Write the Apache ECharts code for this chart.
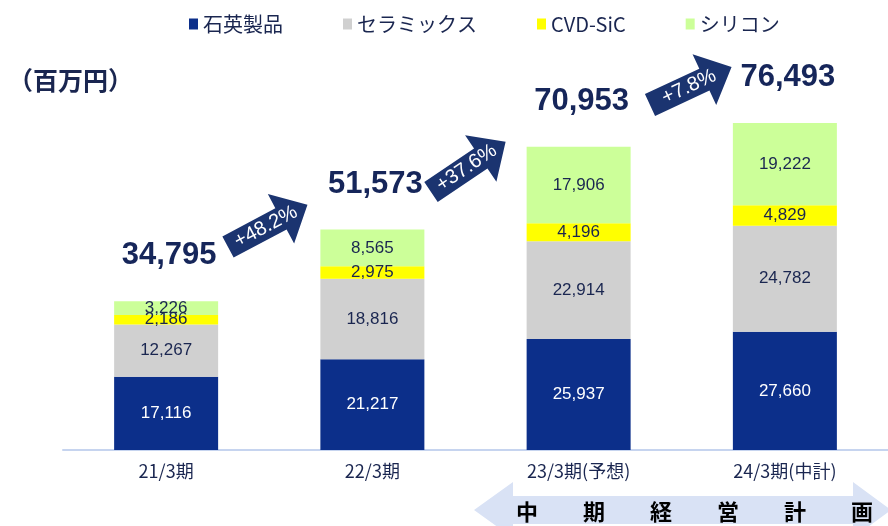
<!DOCTYPE html>
<html>
<head>
<meta charset="utf-8">
<script src="https://cdn.jsdelivr.net/npm/echarts@6/dist/echarts.min.js"></script>
<style>
  html, body { margin: 0; padding: 0; background: #fff; }
  #chart { width: 888px; height: 526px; }
</style>
</head>
<body>
<div id="chart"></div>
<script>
const categories = ['21/3期', '22/3期', '23/3期(予想)', '24/3期(中計)'];
const quartz = [17116, 21217, 25937, 27660];
const ceramics = [12267, 18816, 22914, 24782];
const cvdSic = [2186, 2975, 4196, 4829];
const silicon = [3226, 8565, 17906, 19222];
const totals = [34795, 51573, 70953, 76493];
const growth = ['+48.2%', '+37.6%', '+7.8%'];
// arrow annotations: start point (left middle) and angle in degrees
const arrowPos = [[228, 247, 28], [431, 192, 34], [650, 105, 25]];
const planChars = ['中', '期', '経', '営', '計', '画'];

const navy = '#1a2650';
const numFont = '"Liberation Sans", Arial, sans-serif';
const jpFont = '"Noto Sans CJK JP", sans-serif';

const chart = echarts.init(document.getElementById('chart'));

function segLabel(color) {
  return {
    show: true,
    position: 'inside',
    color: color,
    fontSize: 17,
    fontFamily: numFont,
    formatter: p => p.value.toLocaleString('en-US')
  };
}

function arrowGraphic(x0, y0, deg, text) {
  const a = deg * Math.PI / 180;
  const c = Math.cos(a), s = Math.sin(a);
  const local = [[0, -12], [60, -12], [60, -28], [90, 0], [60, 28], [60, 12], [0, 12]];
  const pts = local.map(([lx, ly]) => [x0 + lx * c + ly * s, y0 - lx * s + ly * c]);
  return [
    { type: 'polygon', shape: { points: pts }, style: { fill: '#1b3470' }, z: 10 },
    {
      type: 'text', x: x0 + 43 * c, y: y0 - 43 * s, rotation: a, z: 11,
      style: {
        text: text, fill: '#fff', font: '20px ' + numFont,
        textAlign: 'center', textVerticalAlign: 'middle'
      }
    }
  ];
}

let graphics = [
  {
    type: 'text', left: 8, top: 68,
    style: { text: '（百万円）', fill: navy, font: 'bold 25px ' + jpFont }
  },
  {
    type: 'polygon', z: 1,
    shape: {
      points: [[474, 510], [513, 482], [513, 496], [853, 496], [853, 482], [891, 510],
               [853, 538], [853, 524], [513, 524], [513, 538]]
    },
    style: { fill: '#d9e2f5' }
  }
];
planChars.forEach((ch, i) => {
  graphics.push({
    type: 'text', x: 527 + i * 67, y: 512, z: 2,
    style: {
      text: ch, fill: '#000', font: 'bold 22px ' + jpFont,
      textAlign: 'center', textVerticalAlign: 'middle'
    }
  });
});
arrowPos.forEach((p, i) => {
  graphics = graphics.concat(arrowGraphic(p[0], p[1], p[2], growth[i]));
});

const option = {
  animation: false,
  legend: {
    data: ['石英製品', 'セラミックス', 'CVD-SiC', 'シリコン'],
    left: 184,
    top: 9,
    icon: 'rect',
    itemWidth: 9,
    itemHeight: 11,
    itemGap: 60,
    itemTextGap: 4,
    textStyle: { color: navy, fontSize: 20, fontFamily: jpFont }
  },
  grid: { left: 63, right: -5, top: 108, bottom: 76 },
  xAxis: {
    type: 'category',
    data: categories,
    axisLine: { lineStyle: { color: '#c6d4ef', width: 2 } },
    axisTick: { show: false },
    axisLabel: { color: navy, fontSize: 18, fontFamily: jpFont, margin: 12 }
  },
  yAxis: {
    type: 'value',
    min: 0,
    max: 80000,
    show: false,
    splitLine: { show: false }
  },
  series: [
    {
      name: '石英製品', type: 'bar', stack: 'a', barWidth: 104, data: quartz,
      itemStyle: { color: '#0c2f8a' }, label: segLabel('#fff')
    },
    {
      name: 'セラミックス', type: 'bar', stack: 'a', data: ceramics,
      itemStyle: { color: '#d0d0d0' }, label: segLabel(navy)
    },
    {
      name: 'CVD-SiC', type: 'bar', stack: 'a', data: cvdSic,
      itemStyle: { color: '#ffff00' }, label: segLabel(navy)
    },
    {
      name: 'シリコン', type: 'bar', stack: 'a', data: silicon,
      itemStyle: { color: '#ccff99' }, label: segLabel(navy)
    },
    {
      name: 'total', type: 'scatter', data: totals, symbolSize: 0.1,
      itemStyle: { color: '#ffffff', opacity: 1 },
      label: {
        show: true, position: 'top', distance: 30, offset: [3, 0],
        color: '#16265a', fontSize: 31, fontWeight: 'bold', fontFamily: numFont,
        textBorderWidth: 0, opacity: 1,
        formatter: p => p.value.toLocaleString('en-US')
      }
    }
  ],
  graphic: graphics
};

chart.setOption(option);
</script>
</body>
</html>
